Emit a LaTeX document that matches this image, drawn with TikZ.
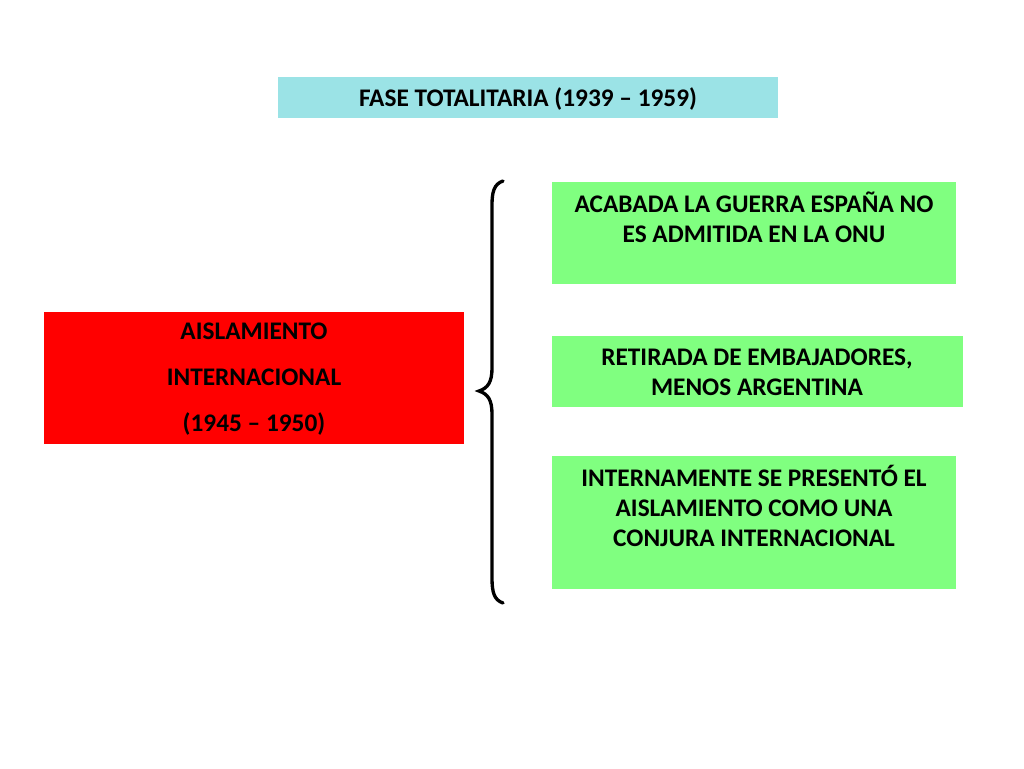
\documentclass[tikz,border=0pt]{standalone}
\usepackage{fontspec}
\setmainfont{Carlito}
\definecolor{titlecyan}{HTML}{9BE3E6}
\definecolor{boxgreen}{HTML}{80FF80}
\definecolor{boxred}{HTML}{FF0000}
\begin{document}
\begin{tikzpicture}[x=0.75pt,y=-0.75pt,
  txt/.style={font=\bfseries\fontsize{19}{22.5}\selectfont, align=center, inner sep=0pt},
  panel/.style={inner sep=0pt, outer sep=0pt}]
\useasboundingbox (0,0) rectangle (1024,768);
\fill[white] (0,0) rectangle (1024,768);
% title
\path[fill=titlecyan] (278,77) rectangle (778,118);
\node[txt] (title) at (528,99) {FASE TOTALITARIA (1939 – 1959)};
% red box
\path[fill=boxred] (44,312) rectangle (464,444);
\node[txt, font=\bfseries\fontsize{19}{34.5}\selectfont] (red) at (254,379) {AISLAMIENTO\\INTERNACIONAL\\(1945 – 1950)};
% green boxes
\path[fill=boxgreen] (552,182) rectangle (956,284);
\node[txt] (g1) at (754,217) {ACABADA LA GUERRA ESPAÑA NO\\ES ADMITIDA EN LA ONU};
\path[fill=boxgreen] (552,336) rectangle (963,407);
\node[txt] (g2) at (757,372) {RETIRADA DE EMBAJADORES,\\MENOS ARGENTINA};
\path[fill=boxgreen] (552,456) rectangle (956,589);
\node[txt] (g3) at (754,506) {INTERNAMENTE SE PRESENTÓ EL\\AISLAMIENTO COMO UNA\\CONJURA INTERNACIONAL};
% brace
\coordinate (btop) at (503,181);
\coordinate (btip) at (479,391);
\coordinate (bbot) at (503,603);
\draw[line width=2.5pt, line cap=round]
  (btop) .. controls (494,184) and (492,192) .. (492,205)
  -- (492,368) .. controls (492,382) and (488,388) .. (btip)
  .. controls (488,394) and (492,400) .. (492,414)
  -- (492,578) .. controls (492,592) and (494,600) .. (bbot);
\end{tikzpicture}
\end{document}
